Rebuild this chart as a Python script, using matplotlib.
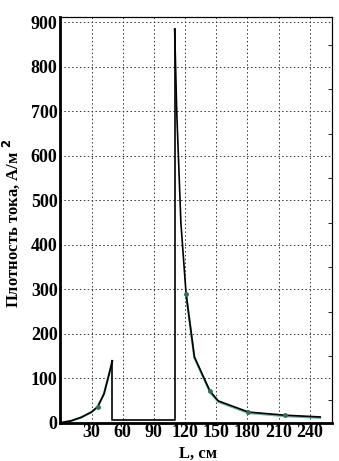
import numpy as np
import matplotlib.pyplot as plt

# data
L_left = [0, 10, 20, 30, 36, 42, 47, 50]
j_left = [0, 4, 12, 24, 36, 65, 110, 139]
L_gap = [50, 50, 110, 110]
j_gap = [139, 6, 6, 885]
L_right = [110, 112, 116, 121, 129, 144, 152, 181, 216, 250]
j_right = [885, 700, 450, 290, 148, 71, 49, 24, 17, 13]
L_marks = [36, 121, 144, 181, 216]
j_marks = [36, 290, 71, 24, 17]
x_ticks = [30, 60, 90, 120, 150, 180, 210, 240]
y_ticks = [0, 100, 200, 300, 400, 500, 600, 700, 800, 900]

plt.rcParams['font.family'] = ['Liberation Serif', 'DejaVu Serif']
plt.rcParams['font.weight'] = 'bold'
plt.rcParams['mathtext.default'] = 'bf'

fig = plt.figure(figsize=(3.39, 4.61), dpi=100)
ax = fig.add_axes([0.178, 0.083, 0.80, 0.880])

# thin teal companion curve
ax.plot(L_left, j_left, color='#3fa58f', lw=1.6, alpha=0.8)
ax.plot(L_right[3:], [v - 2 for v in j_right[3:]], color='#3fa58f', lw=1.6, alpha=0.8)

# main black curve
ax.plot(L_left, j_left, color='black', lw=1.2)
ax.plot(L_gap, j_gap, color='black', lw=1.2)
ax.plot(L_right, j_right, color='black', lw=1.2)
ax.plot(L_marks, j_marks, 'o', color='#2f6f60', ms=2.5)

ax.set_xlim(0, 261)
ax.set_ylim(0, 912)
ax.set_xticks(x_ticks)
ax.set_yticks(y_ticks)
ax.tick_params(labelsize=13, length=0, pad=2)
ax.tick_params(axis='x', pad=1)
ax.grid(True, color='#333333', ls=(0, (1.5, 2.5)), lw=0.7)

for side in ['left', 'bottom']:
    ax.spines[side].set_linewidth(2)
for side in ['top', 'right']:
    ax.spines[side].set_linewidth(0.8)

# small inward ticks on the right frame
ax2 = ax.twinx()
ax2.set_ylim(ax.get_ylim())
ax2.set_yticks(np.arange(50, 901, 100))
ax2.tick_params(direction='in', length=3, labelright=False, width=0.6)
ax2.spines['right'].set_linewidth(0.8)

ax.set_xlabel('L, см', fontsize=12, fontweight='bold')
ax.set_ylabel('Плотность тока, А/м $^2$', fontsize=12, fontweight='bold')
ax.xaxis.set_label_coords(0.508, -0.056)
ax.yaxis.set_label_coords(-0.142, 0.49)

fig.savefig('out.png', dpi=100)
